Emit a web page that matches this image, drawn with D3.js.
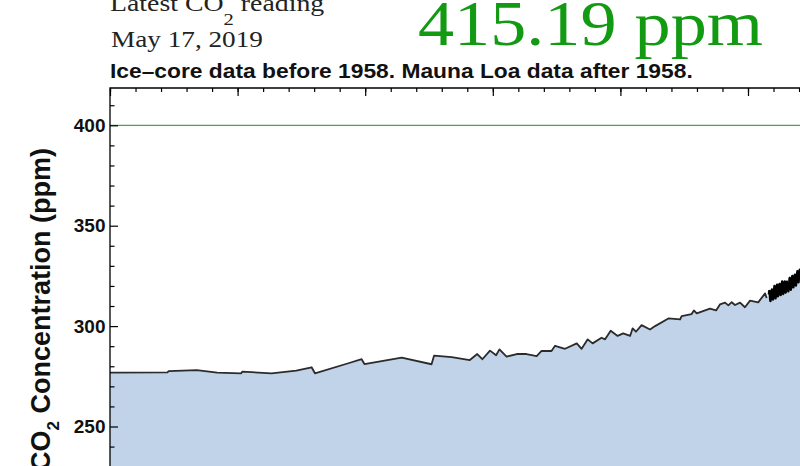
<!DOCTYPE html>
<html><head><meta charset="utf-8">
<script src="https://cdn.jsdelivr.net/npm/d3@7"></script>
<style>html,body{margin:0;padding:0;background:#fff;} svg{display:block;}</style>
</head><body>
<svg id="chart" width="800" height="466"></svg>
<script>
// ---------- DATA ----------
// Ice-core record (year, ppm)
const iceYears = [1700, 1722.5, 1723, 1734, 1742, 1751.4, 1751.8, 1763.3, 1773, 1779, 1780.3,
  1793.4, 1798.6, 1799.7, 1814.3, 1826, 1827, 1833.9, 1841, 1843.9, 1845.9, 1848.9, 1851.3,
  1852.6, 1855.4, 1859.4, 1863.2, 1867.2, 1869.1, 1873, 1874.4, 1878.3, 1882.9, 1884.8,
  1887.2, 1889.1, 1892.6, 1894, 1896.2, 1898.9, 1901.1, 1903.8, 1904.8, 1906.1, 1908.3,
  1911.6, 1913.6, 1918.8, 1923.4, 1924, 1927.9, 1928.8, 1929.9, 1935.1, 1937.5, 1939,
  1941, 1942.3, 1943.6, 1944.9, 1946.9, 1948.8, 1950.8, 1954, 1956.7, 1957.3];
const icePpm = [276.8, 277.0, 277.6, 278.1, 276.8, 276.5, 277.3, 276.5, 277.8, 279.5, 276.5,
  281.5, 283.5, 281.1, 284.3, 281.0, 285.3, 284.5, 283.1, 286.1, 283.5, 287.8, 285.5,
  288.4, 284.8, 286.1, 286.1, 285.1, 287.6, 287.6, 290.2, 288.7, 291.4, 288.7,
  293.4, 291.4, 294.2, 293.4, 297.7, 295.1, 296.4, 295.1, 298.9, 297.2, 300.5,
  298.3, 300.0, 303.8, 303.3, 305.0, 306.0, 307.8, 306.3, 308.7, 307.8, 310.8,
  311.7, 310.3, 311.9, 310.5, 311.7, 309.4, 312.7, 311.8, 316.3, 314.0];

// Mauna Loa monthly means (Jan..Dec), 1958 starts in March
const mloYears = [1958, 1959, 1960, 1961, 1962, 1963, 1964, 1965, 1966, 1967, 1968, 1969, 1970, 1971];
const mloMonthly = [
  [null, null, 315.70, 317.45, 317.51, 317.24, 315.86, 314.93, 313.20, 312.43, 313.33, 314.67],
  [315.62, 316.38, 316.71, 317.72, 318.29, 318.15, 316.54, 314.80, 313.84, 313.26, 314.80, 315.58],
  [316.43, 316.97, 317.58, 319.02, 320.03, 319.59, 318.18, 315.91, 314.16, 313.83, 315.00, 316.19],
  [316.93, 317.70, 318.54, 319.48, 320.58, 319.77, 318.57, 316.79, 314.80, 315.38, 316.10, 317.01],
  [317.94, 318.56, 319.68, 320.57, 321.02, 320.62, 319.61, 317.40, 316.25, 315.42, 316.69, 317.69],
  [318.74, 319.08, 319.86, 321.39, 322.25, 321.47, 319.74, 317.77, 316.21, 315.99, 317.12, 318.31],
  [319.57, 320.07, 320.73, 321.77, 322.25, 321.89, 320.44, 318.70, 316.70, 316.79, 317.79, 318.71],
  [319.44, 320.44, 320.89, 322.13, 322.16, 321.87, 321.39, 318.81, 317.81, 317.30, 318.87, 319.42],
  [320.62, 321.59, 322.39, 323.87, 324.01, 323.75, 322.39, 320.37, 318.64, 318.10, 319.79, 321.08],
  [322.07, 322.50, 323.04, 324.42, 325.00, 324.09, 322.55, 320.92, 319.31, 319.31, 320.72, 321.96],
  [322.57, 323.15, 323.89, 325.02, 325.57, 325.36, 324.14, 322.11, 320.33, 320.25, 321.32, 322.90],
  [324.00, 324.42, 325.64, 326.66, 327.38, 326.70, 325.89, 323.67, 322.38, 321.78, 322.85, 324.12],
  [325.03, 325.99, 326.87, 328.13, 328.07, 327.66, 326.35, 324.69, 323.10, 323.07, 324.01, 325.13],
  [326.17, 326.68, 327.18, 327.78, 328.92, 328.57, 327.34, 325.46, 323.36, 323.57, 324.80, 326.01]
];

const xDomain = [1700, 2020];
const yMajorTicks = [250, 300, 350, 400];
const yMinorTicks = [230, 240, 260, 270, 280, 290, 310, 320, 330, 340, 360, 370, 380, 390, 410];
const referenceLevel = 400;
const headerLine1 = ["Latest CO", "2", " reading"];
const headerDate = "May 17, 2019";
const latestValue = "415.19 ppm";
const subtitle = "Ice\u2013core data before 1958. Mauna Loa data after 1958.";
const yLabel = ["CO", "2", " Concentration (ppm)"];

// ---------- LAYOUT ----------
const svg = d3.select("#chart");
const plotLeft = 110, plotTop = 88, plotRight = 930, plotBottom = 620;
const x = d3.scaleLinear().domain(xDomain).range([110, 110 + 2.552 * (xDomain[1] - xDomain[0])]);
const y = d3.scaleLinear().domain([250, 400]).range([426.5, 125.3]);

const iceData = iceYears.map((yr, i) => ({t: yr, v: icePpm[i]}));
const mloData = [];
mloYears.forEach((yr, i) => mloMonthly[i].forEach((v, m) => {
  if (v != null) mloData.push({t: yr + (m + 0.5) / 12, v});
}));
const allData = iceData.concat(mloData);

const defs = svg.append("defs");
defs.append("clipPath").attr("id", "plotclip").append("rect")
  .attr("x", plotLeft).attr("y", plotTop)
  .attr("width", plotRight - plotLeft).attr("height", plotBottom - plotTop);

const plot = svg.append("g").attr("clip-path", "url(#plotclip)");

plot.append("path").datum(allData)
  .attr("d", d3.area().x(d => x(d.t)).y0(plotBottom).y1(d => y(d.v)))
  .attr("fill", "#c1d3e8");

plot.append("line")
  .attr("x1", plotLeft).attr("x2", plotRight)
  .attr("y1", y(referenceLevel)).attr("y2", y(referenceLevel))
  .attr("stroke", "#45a845").attr("stroke-width", 1.3);

const line = d3.line().x(d => x(d.t)).y(d => y(d.v));
plot.append("path").datum(iceData).attr("d", line)
  .attr("fill", "none").attr("stroke", "#2b2b2b").attr("stroke-width", 1.8)
  .attr("stroke-linejoin", "round");
plot.append("path").datum(mloData).attr("d", line)
  .attr("fill", "none").attr("stroke", "#000").attr("stroke-width", 2.4)
  .attr("stroke-linejoin", "round");

// Axes
const tickFont = "bold 19px 'Liberation Sans', Arial, Helvetica, sans-serif";
const gTopMinor = svg.append("g").attr("transform", `translate(0,${plotTop})`)
  .call(d3.axisTop(x).tickValues(d3.range(1700, 2021, 10)).tickSize(-4).tickSizeOuter(0).tickFormat(""));
const gTopMajor = svg.append("g").attr("transform", `translate(0,${plotTop})`)
  .call(d3.axisTop(x).tickValues(d3.range(1700, 2021, 50)).tickSize(-8).tickSizeOuter(0).tickFormat(""));
const gLeftMinor = svg.append("g").attr("transform", `translate(${plotLeft},0)`)
  .call(d3.axisLeft(y).tickValues(yMinorTicks).tickSize(-4.5).tickSizeOuter(0).tickFormat(""));
const gLeftMajor = svg.append("g").attr("transform", `translate(${plotLeft},0)`)
  .call(d3.axisLeft(y).tickValues(yMajorTicks).tickSize(-8).tickSizeOuter(0).tickPadding(4.5).tickFormat(d3.format("d")));
[gTopMinor, gTopMajor, gLeftMinor, gLeftMajor].forEach(g => {
  g.select(".domain").remove();
  g.selectAll(".tick line").attr("stroke", "#000").attr("stroke-width", 1.2);
  g.selectAll(".tick text").attr("fill", "#111").style("font", tickFont);
});
svg.append("path")
  .attr("d", `M${plotLeft},${plotBottom}V${plotTop}H${plotRight}`)
  .attr("fill", "none").attr("stroke", "#000").attr("stroke-width", 1.3);

// Y label
const yl = svg.append("text")
  .attr("transform", `translate(50,148) rotate(-90)`)
  .attr("text-anchor", "end")
  .attr("fill", "#111")
  .style("font", "bold 27px 'Liberation Sans', Arial, Helvetica, sans-serif");
yl.append("tspan").text(yLabel[0]);
yl.append("tspan").attr("dy", 9).style("font-size", "17px").text(yLabel[1]);
yl.append("tspan").attr("dy", -9).text(yLabel[2]);

// Header texts, fitted horizontally to the reference widths
function fit(sel, px, py, width) {
  const w = sel.node().getBBox().width;
  sel.attr("transform", `translate(${px},${py}) scale(${width / w},1)`);
}
const serif = "'Liberation Serif', 'Times New Roman', Times, serif";
const h1 = svg.append("text").attr("fill", "#222").style("font-family", serif).style("font-size", "23px");
h1.append("tspan").text(headerLine1[0]);
h1.append("tspan").attr("dy", 14.5).style("font-size", "17px").text(headerLine1[1]);
h1.append("tspan").attr("dy", -14.5).text(headerLine1[2]);
fit(h1, 110, 10.5, 215);

const h2 = svg.append("text").attr("fill", "#222").style("font-family", serif).style("font-size", "23px").text(headerDate);
fit(h2, 111, 46.5, 152);

const h3 = svg.append("text").attr("fill", "#139a13").style("font-family", serif).style("font-size", "64px").text(latestValue);
fit(h3, 418, 45, 345);

const h4 = svg.append("text").attr("fill", "#111")
  .style("font", "bold 20px 'Liberation Sans', Arial, Helvetica, sans-serif").text(subtitle);
fit(h4, 110, 78, 583);
</script>
</body></html>
